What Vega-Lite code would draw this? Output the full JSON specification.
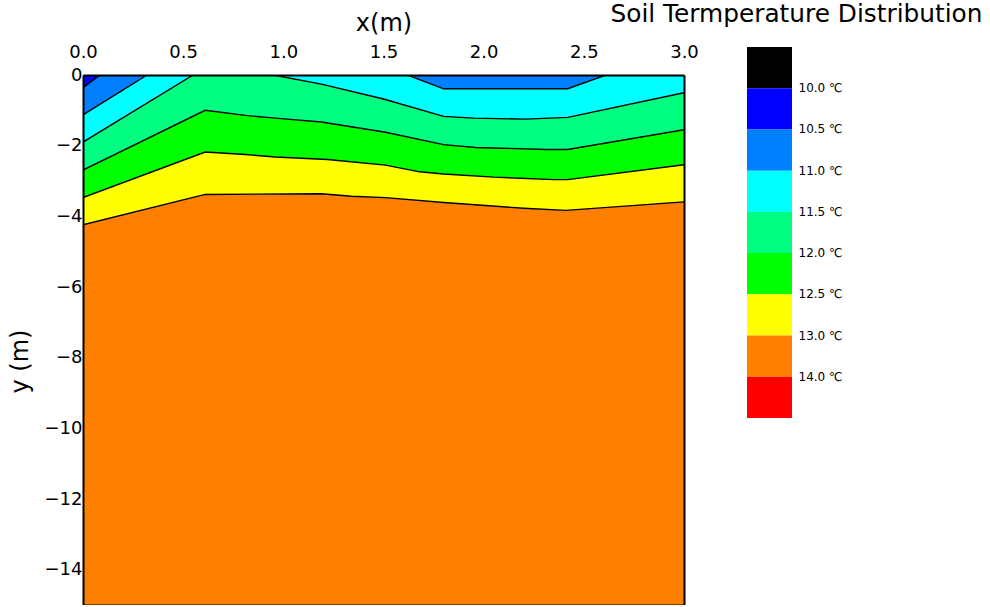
{
  "$schema": "https://vega.github.io/schema/vega-lite/v6.json",
  "padding": {"left": 8, "top": 1, "right": 0, "bottom": 0},
  "background": "white",
  "config": {
    "font": "DejaVu Sans",
    "axis": {"labelFont": "DejaVu Sans", "titleFont": "DejaVu Sans", "labelColor": "black", "titleColor": "black", "titleFontWeight": "normal", "grid": false, "ticks": false, "domain": false},
    "title": {"font": "DejaVu Sans", "fontWeight": "normal", "color": "black"}
  },
  "datasets": {
    "contours": [
      {"band": "10.0 ℃", "x": 0, "y": 0},
      {"band": "10.0 ℃", "x": 3, "y": 0},
      {"band": "10.5 ℃", "x": 0, "y": -0.36},
      {"band": "10.5 ℃", "x": 0.085, "y": 0},
      {"band": "10.5 ℃", "x": 3, "y": 0},
      {"band": "11.0 ℃", "x": 0, "y": -1.13},
      {"band": "11.0 ℃", "x": 0.32, "y": 0},
      {"band": "11.0 ℃", "x": 1.62, "y": 0},
      {"band": "11.0 ℃", "x": 1.8, "y": -0.39},
      {"band": "11.0 ℃", "x": 2.42, "y": -0.39},
      {"band": "11.0 ℃", "x": 2.61, "y": 0},
      {"band": "11.0 ℃", "x": 3, "y": 0},
      {"band": "11.5 ℃", "x": 0, "y": -1.9},
      {"band": "11.5 ℃", "x": 0.55, "y": 0},
      {"band": "11.5 ℃", "x": 0.95, "y": 0},
      {"band": "11.5 ℃", "x": 1.19, "y": -0.26},
      {"band": "11.5 ℃", "x": 1.5, "y": -0.68},
      {"band": "11.5 ℃", "x": 1.8, "y": -1.17},
      {"band": "11.5 ℃", "x": 1.95, "y": -1.22},
      {"band": "11.5 ℃", "x": 2.21, "y": -1.25},
      {"band": "11.5 ℃", "x": 2.42, "y": -1.2},
      {"band": "11.5 ℃", "x": 3, "y": -0.5},
      {"band": "12.0 ℃", "x": 0, "y": -2.69},
      {"band": "12.0 ℃", "x": 0.61, "y": -1.0},
      {"band": "12.0 ℃", "x": 0.82, "y": -1.15},
      {"band": "12.0 ℃", "x": 0.96, "y": -1.22},
      {"band": "12.0 ℃", "x": 1.19, "y": -1.33},
      {"band": "12.0 ℃", "x": 1.51, "y": -1.62},
      {"band": "12.0 ℃", "x": 1.8, "y": -1.97},
      {"band": "12.0 ℃", "x": 1.96, "y": -2.05},
      {"band": "12.0 ℃", "x": 2.31, "y": -2.11},
      {"band": "12.0 ℃", "x": 2.42, "y": -2.11},
      {"band": "12.0 ℃", "x": 3, "y": -1.55},
      {"band": "12.5 ℃", "x": 0, "y": -3.47},
      {"band": "12.5 ℃", "x": 0.61, "y": -2.18},
      {"band": "12.5 ℃", "x": 0.81, "y": -2.25},
      {"band": "12.5 ℃", "x": 0.96, "y": -2.32},
      {"band": "12.5 ℃", "x": 1.22, "y": -2.39},
      {"band": "12.5 ℃", "x": 1.51, "y": -2.55},
      {"band": "12.5 ℃", "x": 1.68, "y": -2.74},
      {"band": "12.5 ℃", "x": 1.8, "y": -2.8},
      {"band": "12.5 ℃", "x": 2.05, "y": -2.89},
      {"band": "12.5 ℃", "x": 2.35, "y": -2.96},
      {"band": "12.5 ℃", "x": 2.42, "y": -2.96},
      {"band": "12.5 ℃", "x": 3, "y": -2.54},
      {"band": "13.0 ℃", "x": 0, "y": -4.24},
      {"band": "13.0 ℃", "x": 0.61, "y": -3.38},
      {"band": "13.0 ℃", "x": 1.19, "y": -3.36},
      {"band": "13.0 ℃", "x": 1.34, "y": -3.43},
      {"band": "13.0 ℃", "x": 1.51, "y": -3.47},
      {"band": "13.0 ℃", "x": 1.8, "y": -3.61},
      {"band": "13.0 ℃", "x": 2.2, "y": -3.77},
      {"band": "13.0 ℃", "x": 2.41, "y": -3.83},
      {"band": "13.0 ℃", "x": 3, "y": -3.59}
    ],
    "legend": [
      {"band": "below"},
      {"band": "10.0 ℃"},
      {"band": "10.5 ℃"},
      {"band": "11.0 ℃"},
      {"band": "11.5 ℃"},
      {"band": "12.0 ℃"},
      {"band": "12.5 ℃"},
      {"band": "13.0 ℃"},
      {"band": "14.0 ℃"}
    ]
  },
  "spacing": -89,
  "hconcat": [
    {
      "width": 601,
      "height": 530,
      "view": {"stroke": null},
      "data": {"name": "contours"},
      "resolve": {"axis": {"x": "independent", "y": "independent"}},
      "encoding": {
        "x": {"field": "x", "type": "quantitative", "scale": {"domain": [0, 3], "nice": false, "zero": false}, "axis": null},
        "y": {"field": "y", "type": "quantitative", "scale": {"domain": [-15, 0], "nice": false, "zero": false}, "axis": null}
      },
      "layer": [
        {"transform": [{"filter": "datum.band == '10.0 ℃'"}], "mark": {"type": "area", "clip": true},
          "encoding": {
            "x": {"field": "x", "type": "quantitative",
              "axis": {"orient": "top", "title": "x(m)", "titleFontSize": 24, "labelFontSize": 18, "values": [0, 0.5, 1, 1.5, 2, 2.5, 3], "format": ".1f", "labelPadding": 14, "titlePadding": 8, "labelFlush": false, "domain": true, "domainColor": "black", "domainWidth": 2, "zindex": 2}},
            "y": {"field": "y", "type": "quantitative",
              "axis": {"orient": "left", "title": "y (m)", "titleFontSize": 24, "labelFontSize": 18, "values": [0, -2, -4, -6, -8, -10, -12, -14], "format": "d", "labelPadding": 1, "titlePadding": 12, "titleY": 286, "labelFlush": false, "domain": true, "domainColor": "black", "domainWidth": 2, "zindex": 2}},
            "y2": {"datum": -15}, "color": {"field": "band", "type": "nominal", "legend": null}}},
        {"transform": [{"filter": "datum.band == '10.5 ℃'"}], "mark": {"type": "area", "clip": true}, "encoding": {"y2": {"datum": -15}, "color": {"field": "band", "type": "nominal", "legend": null}}},
        {"transform": [{"filter": "datum.band == '11.0 ℃'"}], "mark": {"type": "area", "clip": true}, "encoding": {"y2": {"datum": -15}, "color": {"field": "band", "type": "nominal", "legend": null}}},
        {"transform": [{"filter": "datum.band == '11.5 ℃'"}], "mark": {"type": "area", "clip": true}, "encoding": {"y2": {"datum": -15}, "color": {"field": "band", "type": "nominal", "legend": null}}},
        {"transform": [{"filter": "datum.band == '12.0 ℃'"}], "mark": {"type": "area", "clip": true}, "encoding": {"y2": {"datum": -15}, "color": {"field": "band", "type": "nominal", "legend": null}}},
        {"transform": [{"filter": "datum.band == '12.5 ℃'"}], "mark": {"type": "area", "clip": true}, "encoding": {"y2": {"datum": -15}, "color": {"field": "band", "type": "nominal", "legend": null}}},
        {"transform": [{"filter": "datum.band == '13.0 ℃'"}], "mark": {"type": "area", "clip": true}, "encoding": {"y2": {"datum": -15}, "color": {"field": "band", "type": "nominal", "legend": null}}},
        {"transform": [{"filter": "datum.band != '10.0 ℃'"}], "mark": {"type": "line", "color": "black", "strokeWidth": 1.4, "clip": true},
          "encoding": {
            "x": {"field": "x", "type": "quantitative",
              "axis": {"orient": "bottom", "title": null, "labels": false, "ticks": false, "grid": false, "domain": true, "domainColor": "black", "domainWidth": 2, "zindex": 2}},
            "y": {"field": "y", "type": "quantitative",
              "axis": {"orient": "right", "title": null, "labels": false, "ticks": false, "grid": false, "domain": true, "domainColor": "black", "domainWidth": 2, "zindex": 2}},
            "detail": {"field": "band", "type": "nominal"}}}
      ]
    },
    {
      "width": 45,
      "height": 343,
      "view": {"stroke": null},
      "title": {"text": "Soil Termperature Distribution", "fontSize": 24.8, "dx": 27, "offset": 14},
      "data": {"name": "legend"},
      "mark": {"type": "rect"},
      "encoding": {
        "y": {"field": "band", "type": "nominal", "sort": null, "scale": {"paddingInner": 0, "paddingOuter": 0, "range": [-28, 343]},
          "axis": {"orient": "right", "title": null, "labelFontSize": 12, "labelPadding": 6, "labelOffset": -20.6, "labelBaseline": "middle", "labelExpr": "datum.value == 'below' ? '' : datum.value"}},
        "color": {"field": "band", "type": "nominal", "legend": null,
          "scale": {"domain": ["below", "10.0 ℃", "10.5 ℃", "11.0 ℃", "11.5 ℃", "12.0 ℃", "12.5 ℃", "13.0 ℃", "14.0 ℃"],
            "range": ["#000000", "#0000ff", "#0080ff", "#00ffff", "#00ff80", "#00ff00", "#ffff00", "#ff8000", "#ff0000"]}}
      }
    }
  ]
}
